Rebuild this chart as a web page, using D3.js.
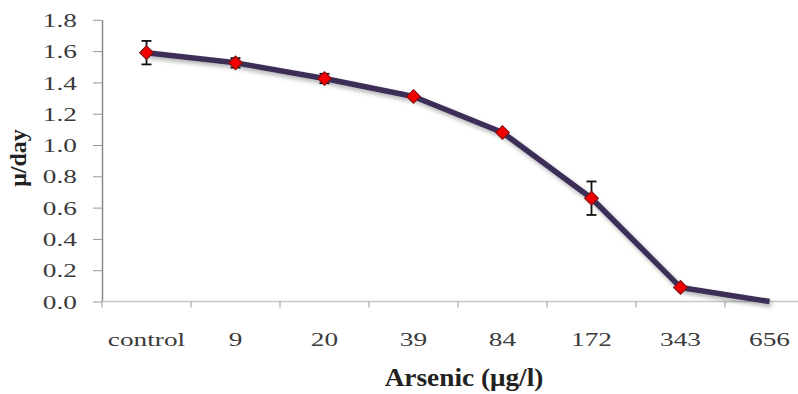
<!DOCTYPE html>
<html lang="en">
<head>
    <meta charset="UTF-8">
    <title>Arsenic growth rate</title>
    <style>
        body { margin: 0; background: #fff; }
        text { font-family: 'Liberation Serif', 'Times New Roman', Times, 'Nimbus Roman', 'FreeSerif', 'Noto Serif', 'DejaVu Serif', serif; }
        .tick-label { font-size: 19.5px; fill: #3a3a3a; }
        .axis-label { font-size: 26px; font-weight: bold; fill: #222; }
    </style>
</head>
<body>
    <svg width="798" height="394"></svg>

    <script src="https://d3js.org/d3.v7.min.js"></script>
    <script>
        // Data
        const categories = ['control', '9', '20', '39', '84', '172', '343', '656'];
        const rates = [1.59, 1.525, 1.425, 1.31, 1.08, 0.66, 0.09, 0.0];
        const errors = [0.075, 0.03, 0.03, 0.01, 0.01, 0.107, 0.01, 0];
        const showMarker = [true, true, true, true, true, true, true, false];
        const yTicks = [0, 0.2, 0.4, 0.6, 0.8, 1.0, 1.2, 1.4, 1.6, 1.8];

        // the source image is stretched sideways, so is its text
        const stretch = 1.4;

        const svg = d3.select('svg');

        const x = d3.scaleBand()
            .domain(categories)
            .range([102, 814])
            .padding(0);

        const y = d3.scaleLinear()
            .domain([0, 1.8])
            .range([301.5, 19.8]);

        const data = categories.map(function (c, i) {
            return { cat: c, v: rates[i], e: errors[i], m: showMarker[i] };
        });

        // soft shadow like the spreadsheet line
        const defs = svg.append('defs');
        const filt = defs.append('filter').attr('id', 'shadow')
            .attr('x', '-10%').attr('y', '-10%').attr('width', '120%').attr('height', '130%');
        filt.append('feDropShadow')
            .attr('dx', 2).attr('dy', 3).attr('stdDeviation', 2)
            .attr('flood-color', '#000').attr('flood-opacity', 0.3);

        // y axis
        const yAxis = d3.axisLeft(y)
            .tickValues(yTicks)
            .tickFormat(d3.format('.1f'))
            .tickSize(9)
            .tickPadding(16)
            .tickSizeOuter(0);

        const yG = svg.append('g')
            .attr('transform', 'translate(102,0)')
            .call(yAxis)
            .attr('font-family', null)
            .attr('font-size', null);
        yG.select('.domain').attr('stroke', '#888').attr('stroke-width', 1.5);
        yG.selectAll('.tick line').attr('stroke', '#999');
        yG.selectAll('.tick text')
            .attr('class', 'tick-label')
            .attr('x', 0)
            .attr('dy', '0.34em')
            .attr('transform', 'translate(-25,0) scale(' + stretch + ',1)');

        // x axis, ticks at band boundaries
        const xG = svg.append('g')
            .attr('transform', 'translate(0,301.5)');
        xG.append('line')
            .attr('x1', 102).attr('x2', 814)
            .attr('stroke', '#c8c8c8').attr('stroke-width', 1.5);
        xG.selectAll('.xt')
            .data(categories)
            .enter()
            .append('line')
            .attr('class', 'xt')
            .attr('x1', function (d) { return x(d); })
            .attr('x2', function (d) { return x(d); })
            .attr('y1', 0).attr('y2', 6)
            .attr('stroke', '#999');
        xG.selectAll('.xl')
            .data(categories)
            .enter()
            .append('text')
            .attr('class', 'tick-label')
            .attr('text-anchor', 'middle')
            .attr('transform', function (d) {
                return 'translate(' + (x(d) + x.bandwidth() / 2) + ',44.5) scale(' + stretch + ',1)';
            })
            .text(function (d) { return d; });

        // axis titles
        svg.append('text')
            .attr('class', 'axis-label')
            .attr('transform', 'translate(464,386) scale(1.05,1)')
            .attr('text-anchor', 'middle')
            .text('Arsenic (μg/l)');

        svg.append('text')
            .attr('class', 'axis-label')
            .style('font-size', '24px')
            .attr('transform', 'translate(26,158) rotate(-90)')
            .attr('text-anchor', 'middle')
            .text('μ/day');

        const cx = function (d) { return x(d.cat) + x.bandwidth() / 2; };

        // line
        const line = d3.line()
            .x(cx)
            .y(function (d) { return y(d.v); });

        svg.append('path')
            .datum(data)
            .attr('d', line)
            .attr('fill', 'none')
            .attr('stroke', '#3c2f59')
            .attr('stroke-width', 5.5)
            .attr('stroke-linejoin', 'round')
            .attr('filter', 'url(#shadow)');

        // error bars
        const eb = svg.append('g')
            .selectAll('g')
            .data(data.filter(function (d) { return d.e > 0.02; }))
            .enter()
            .append('g')
            .attr('stroke', '#111')
            .attr('stroke-width', 1.8);
        eb.append('line')
            .attr('x1', cx).attr('x2', cx)
            .attr('y1', function (d) { return y(d.v + d.e); })
            .attr('y2', function (d) { return y(d.v - d.e); });
        eb.append('line')
            .attr('x1', function (d) { return cx(d) - 5; })
            .attr('x2', function (d) { return cx(d) + 5; })
            .attr('y1', function (d) { return y(d.v + d.e); })
            .attr('y2', function (d) { return y(d.v + d.e); });
        eb.append('line')
            .attr('x1', function (d) { return cx(d) - 5; })
            .attr('x2', function (d) { return cx(d) + 5; })
            .attr('y1', function (d) { return y(d.v - d.e); })
            .attr('y2', function (d) { return y(d.v - d.e); });

        // diamond markers
        const diamond = d3.symbol().type(d3.symbolSquare).size(95);
        svg.append('g')
            .selectAll('path')
            .data(data.filter(function (d) { return d.m; }))
            .enter()
            .append('path')
            .attr('d', diamond)
            .attr('transform', function (d) {
                return 'translate(' + cx(d) + ' ' + y(d.v) + ') rotate(45)';
            })
            .attr('fill', '#f00000')
            .attr('stroke', '#7a1010')
            .attr('stroke-width', 1);
    </script>
</body>
</html>
